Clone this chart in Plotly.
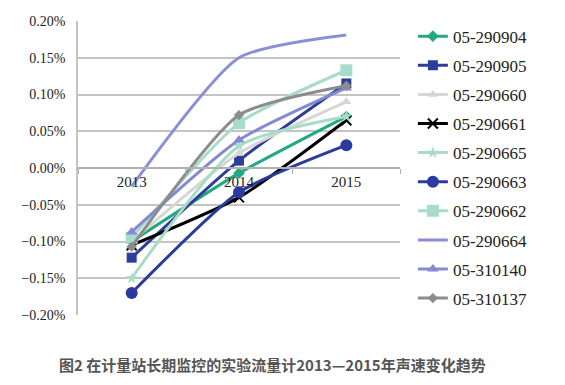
import plotly.graph_objects as go

years = ["2013", "2014", "2015"]

names = ["05-290904", "05-290905", "05-290660", "05-290661", "05-290665",
         "05-290663", "05-290662", "05-290664", "05-310140", "05-310137"]

v_290904 = [-0.00100, -0.00007, 0.00070]
v_290905 = [-0.00122, 0.00010, 0.00115]
v_290660 = [-0.00100, 0.00020, 0.00090]
v_290661 = [-0.00105, -0.00040, 0.00065]
v_290665 = [-0.00150, 0.00030, 0.00070]
v_290663 = [-0.00170, -0.00033, 0.00031]
v_290662 = [-0.00095, 0.00061, 0.00133]
v_290664 = [-0.00025, 0.00150, 0.00181]
v_310140 = [-0.00087, 0.00038, 0.00109]
v_310137 = [-0.00107, 0.00072, 0.00112]

values = [v_290904, v_290905, v_290660, v_290661, v_290665,
          v_290663, v_290662, v_290664, v_310140, v_310137]

colors = ["#23a981", "#2c3d9a", "#d6d6d6", "#000000", "#a9dcc6",
          "#2a3a9e", "#a8dcca", "#8a90d8", "#8389d2", "#8c8c8c"]
symbols = ["diamond", "square", "triangle-up", "x-thin-open", "star",
           "circle", "square", None, "triangle-up", "diamond"]
msizes = [9, 10, 9, 10, 9, 12, 12, 0, 10, 8]

SERIF = "Liberation Serif"

fig = go.Figure()
for i, (n, v) in enumerate(zip(names, values)):
    mk = dict(color=colors[i], size=msizes[i])
    if symbols[i] is None:
        mode = "lines"
    else:
        mode = "lines+markers"
        mk["symbol"] = symbols[i]
        if symbols[i] == "x-thin-open":
            mk["line"] = dict(color=colors[i], width=2)
    fig.add_trace(go.Scatter(
        x=years, y=v, name=n, mode=mode,
        line=dict(color=colors[i], width=3, shape="spline", smoothing=0.6),
        marker=mk, legendgroup=n,
    ))

fig.update_layout(
    width=565, height=385,
    margin=dict(l=70, r=173, t=13, b=78, autoexpand=False),
    paper_bgcolor="white", plot_bgcolor="white",
    font=dict(family=SERIF, size=14, color="#222"),
    legend=dict(x=1.04, y=1.008, xanchor="left", yanchor="top",
                font=dict(family=SERIF, size=17, color="#222"),
                tracegroupgap=4, itemwidth=30, bgcolor="rgba(0,0,0,0)",
                maxheight=400),
    showlegend=True,
)
fig.update_yaxes(range=[-0.002, 0.002], dtick=0.0005, tick0=0,
                 tickformat=".2%", showgrid=True, gridcolor="#c4c4c4",
                 gridwidth=1.5, zeroline=False, showline=True,
                 linecolor="#c4c4c4", linewidth=1.5, ticklabelstandoff=8,
                 tickfont=dict(size=14, family=SERIF, color="#222"))
fig.update_xaxes(type="category", anchor="free", position=0.5,
                 range=[-0.5, 2.5],
                 showline=True, linecolor="#b0b0b0", linewidth=1.5,
                 ticks="outside", ticklen=5, tickcolor="#b0b0b0",
                 tickson="boundaries", showgrid=False,
                 tickfont=dict(size=15, family=SERIF, color="#222"))

fig.add_annotation(
    text="<b>图2 在计量站长期监控的实验流量计2013—2015年声速变化趋势</b>",
    xref="paper", yref="paper", x=0.605, y=-0.17, xanchor="center",
    yanchor="middle", showarrow=False,
    font=dict(family="Noto Sans CJK SC", size=15, color="#555555"),
)

fig.write_html("out.html")
